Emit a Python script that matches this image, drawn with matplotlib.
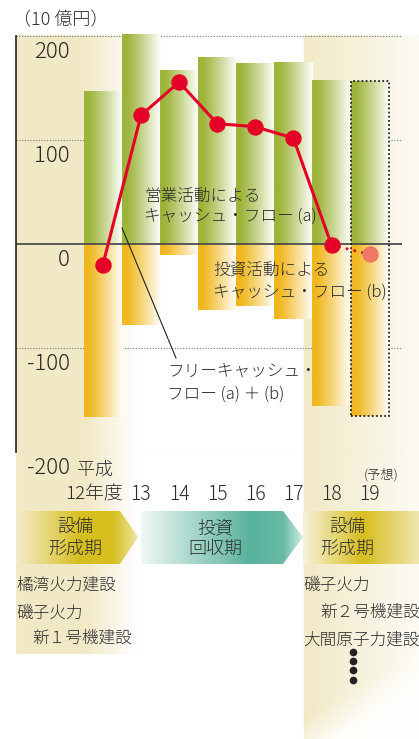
import numpy as np
import matplotlib
matplotlib.use('Agg')
import matplotlib.pyplot as plt
import matplotlib.transforms as mtransforms
from matplotlib.patches import Polygon
from matplotlib.colors import to_rgb

plt.rcParams['font.family'] = ['Noto Sans CJK JP', 'DejaVu Sans']
plt.rcParams['font.weight'] = 'light'

# data (10億円)
years = ['12', '13', '14', '15', '16', '17', '18', '19']
operating_cf = [147, 202, 168, 180, 174, 175, 158, 157]      # (a)
investing_cf = [-167, -78, -11, -64, -60, -72, -156, -166]    # (b)
free_cf = [-20, 124, 156, 116, 113, 102, -1, -10]             # (a)+(b)
y_ticks = [200, 100, 0, -100, -200]

W, H = 419, 739
TXT = '#2b2b2b'
RED = '#e50027'
SALMON = '#ee7766'
GREEN = '#9db43a'
ORANGE = '#f0b71e'

fig = plt.figure(figsize=(W / 100, H / 100), dpi=100)

# background layer, pixel coords
bg = fig.add_axes([0, 0, 1, 1], zorder=0)
bg.set_xlim(0, W)
bg.set_ylim(H, 0)
bg.axis('off')

yy, xx = np.mgrid[0:H, 0:W] + 0.5
alpha = np.zeros((H, W))
left = (xx >= 16) & (yy >= 35) & (yy <= 654)
alpha = np.where(left, np.clip((138 - xx) / (138 - 85), 0, 1), alpha)
right = (xx >= 303) & (yy >= 35)
a_right = 1 - 0.82 * (xx - 303) / 116
edge = 650 + (418 - xx) * 0.6
a_right = a_right * np.clip(1 - (yy - edge) / 45, 0.12, 1)
alpha = np.where(right, np.maximum(alpha, a_right), alpha)
beige = np.array([241, 233, 198]) / 255
img = np.ones((H, W, 3)) * (1 - alpha[..., None]) + beige * alpha[..., None]
bg.imshow(img, extent=(0, W, H, 0), interpolation='bilinear', aspect='auto')


def grad_img(stops, x0, x1, n=300):
    xs = np.linspace(x0, x1, n)
    sx = [s[0] for s in stops]
    cols = np.array([s[1] for s in stops]) / 255
    out = np.stack([np.interp(xs, sx, cols[:, k]) for k in range(3)], axis=1)
    return out[None, :, :]


def phase_shape(pts, stops, zorder=2):
    poly = Polygon(pts, closed=True, facecolor='none', edgecolor='none')
    bg.add_patch(poly)
    xs = [p[0] for p in pts]
    ys = [p[1] for p in pts]
    im = bg.imshow(grad_img(stops, min(xs), max(xs)),
                   extent=(min(xs), max(xs), max(ys), min(ys)),
                   aspect='auto', interpolation='bilinear', zorder=zorder)
    im.set_clip_path(poly)


phase_shape([(16, 511), (120, 511), (138, 537), (120, 564), (16, 564)],
            [(16, (243, 236, 203)), (80, (214, 190, 30)), (112, (214, 190, 30)),
             (138, (240, 230, 170))])
phase_shape([(141, 511), (283, 511), (303, 537), (283, 564), (141, 564)],
            [(141, (240, 248, 245)), (250, (88, 178, 155)), (283, (105, 187, 166)),
             (303, (215, 238, 232))])
phase_shape([(303, 511), (419, 511), (419, 564), (303, 564)],
            [(303, (247, 242, 220)), (363, (214, 190, 30)), (419, (240, 230, 175))])
bg.set_xlim(0, W)
bg.set_ylim(H, 0)

# main chart axes
x = np.arange(len(years))
XL = (-2.28, 7.85)
ax = fig.add_axes([16 / W, (H - 451.5) / H, 386 / W, (451.5 - 24) / H], zorder=1)
ax.patch.set_visible(False)
ax.axis('off')


def gradient_bars(vals, color):
    bars = ax.bar(x, vals, width=1.0, facecolor='none', edgecolor='none')
    base = np.array(to_rgb(color))
    t = np.linspace(0, 1, 200)
    f = np.clip((t - 0.12) / 0.88, 0, 1) ** 1.1
    g = base[None, :] * (1 - f[:, None]) + np.ones(3) * f[:, None]
    for b in bars:
        x0, y0, w, h = b.get_x(), b.get_y(), b.get_width(), b.get_height()
        im = ax.imshow(g[None, :, :], extent=(x0, x0 + w, min(y0, y0 + h), max(y0, y0 + h)),
                       aspect='auto', interpolation='bilinear', zorder=2)
        im.set_clip_path(b)


gradient_bars(operating_cf, GREEN)
gradient_bars(investing_cf, ORANGE)

# forecast outline for year 19
ax.bar(x[-1], operating_cf[-1] - investing_cf[-1], bottom=investing_cf[-1], width=1.0,
       fill=False, edgecolor='#222222', lw=1.3, linestyle=(0, (1, 1.3)), zorder=4)

ax.hlines([t for t in y_ticks if t != 0], XL[0], XL[1], colors='#777777', lw=0.8,
          linestyles=(0, (1, 1.5)), zorder=1)
ax.hlines(0, XL[0], XL[1], colors='#4d4d4d', lw=1.3, zorder=3)
ax.plot([XL[0], XL[0]], [-200, 200], color='#222222', lw=1.2, clip_on=False, zorder=3)

ax.plot(x[:7], free_cf[:7], color=RED, lw=2.2, marker='o', ms=10.8, zorder=5)
ax.plot(x[6:8], free_cf[6:8], color=RED, lw=2.2, dashes=(0.01, 2.6),
        dash_capstyle='round', zorder=4)
ax.plot(x[7], free_cf[7], 'o', color=SALMON, ms=10.8, zorder=6)

ax.set_xlim(*XL)
ax.set_ylim(-200, 212)

# overlay for text, pixel coords
top = fig.add_axes([0, 0, 1, 1], zorder=3)
top.patch.set_visible(False)
top.axis('off')
top.set_xlim(0, W)
top.set_ylim(H, 0)

top.text(13, 20, '（10 億円）', fontsize=13, color=TXT, ha='left', va='center')

tr = mtransforms.blended_transform_factory(top.transData, ax.transData)
tr = mtransforms.offset_copy(tr, fig=fig, x=0, y=-16, units='dots')
for t in y_ticks:
    top.text(70, t, str(t), transform=tr, fontsize=16, color=TXT, ha='right', va='center')

xtr = mtransforms.blended_transform_factory(ax.transData, top.transData)
top.text(0.27, 470, '平成', transform=xtr, fontsize=13, color=TXT, ha='right', va='center')
top.text(0.53, 495, '12年度', transform=xtr, fontsize=13.5, color=TXT, ha='right', va='center')
for i, yr in enumerate(years[1:], start=1):
    top.text(x[i], 495, yr, transform=xtr, fontsize=14, color=TXT, ha='center', va='center')
top.text(7.3, 475, '(予想)', transform=xtr, fontsize=9.5, color=TXT, ha='center', va='center')

# annotations
top.text(144, 197, '営業活動による', fontsize=12, color=TXT, va='center')
top.text(144, 216, 'キャッシュ・フロー (a)', fontsize=12, color=TXT, va='center')
top.text(213, 270, '投資活動による', fontsize=12, color=TXT, va='center')
top.text(213, 292, 'キャッシュ・フロー (b)', fontsize=12, color=TXT, va='center')
top.text(167, 372, 'フリーキャッシュ・', fontsize=12, color=TXT, va='center')
top.text(167, 394, 'フロー (a) ＋ (b)', fontsize=12, color=TXT, va='center')
top.plot([122, 176], [228, 358], color='#222222', lw=0.8)

# phases
for cx, l1, l2 in [(75, '設備', '形成期'), (215, '投資', '回収期'), (347, '設備', '形成期')]:
    top.text(cx, 528, l1, fontsize=13, color=TXT, ha='center', va='center')
    top.text(cx, 549, l2, fontsize=13, color=TXT, ha='center', va='center')

top.text(16, 585, '橘湾火力建設', fontsize=12, color=TXT, va='center')
top.text(16, 613, '磯子火力', fontsize=12, color=TXT, va='center')
top.text(32, 638, '新１号機建設', fontsize=12, color=TXT, va='center')
top.text(303, 585, '磯子火力', fontsize=12, color=TXT, va='center')
top.text(320, 612, '新２号機建設', fontsize=12, color=TXT, va='center')
top.text(303, 640, '大間原子力建設', fontsize=12, color=TXT, va='center')
top.plot([353] * 4, [652, 661, 670, 680], 'o', ms=4.5, color='#222222')

fig.savefig('out.png', dpi=100)
